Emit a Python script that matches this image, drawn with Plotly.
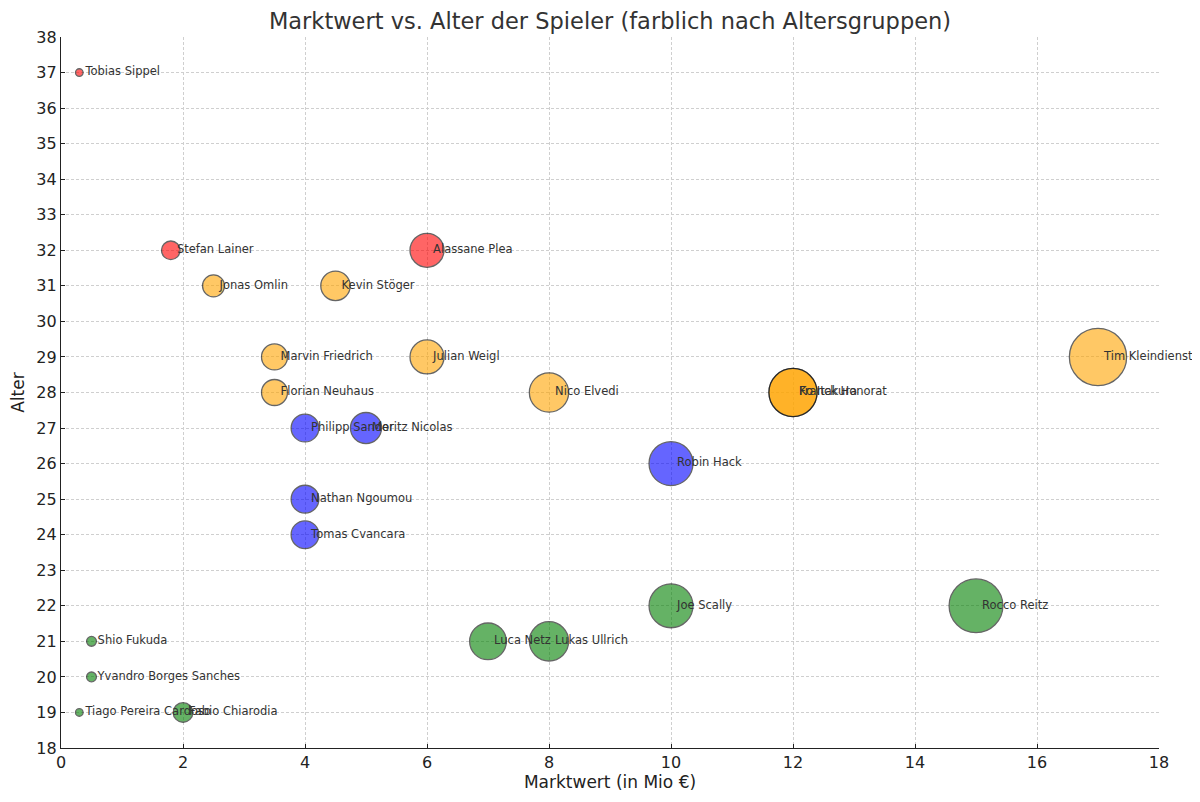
import numpy as np
import plotly.graph_objects as go

# Spielerdaten
spieler = ["Tobias Sippel", "Stefan Lainer", "Alassane Plea", "Jonas Omlin", "Kevin Stöger",
           "Marvin Friedrich", "Julian Weigl", "Tim Kleindienst", "Florian Neuhaus", "Nico Elvedi",
           "Ko Itakura", "Franck Honorat", "Philipp Sander", "Moritz Nicolas", "Robin Hack",
           "Nathan Ngoumou", "Tomas Cvancara", "Joe Scally", "Rocco Reitz", "Luca Netz",
           "Lukas Ullrich", "Shio Fukuda", "Yvandro Borges Sanches", "Tiago Pereira Cardoso",
           "Fabio Chiarodia"]
marktwert = [0.3, 1.8, 6, 2.5, 4.5,
             3.5, 6, 17, 3.5, 8,
             12, 12, 4, 5, 10,
             4, 4, 10, 15, 7,
             8, 0.5, 0.5, 0.3,
             2]
alter = [37, 32, 32, 31, 31,
         29, 29, 29, 28, 28,
         28, 28, 27, 27, 26,
         25, 24, 22, 22, 21,
         21, 21, 20, 19,
         19]


def farbe(a):
    if a >= 32:
        return "red"
    if a >= 28:
        return "orange"
    if a >= 24:
        return "blue"
    return "green"


farben = [farbe(a) for a in alter]
# matplotlib s = wert*100 (pt^2) -> Durchmesser in px
groessen = [np.sqrt(w * 100) * 100 / 72 for w in marktwert]

fig = go.Figure()
fig.add_trace(go.Scatter(
    x=marktwert, y=alter, mode="markers",
    marker=dict(size=groessen, color=farben, opacity=0.6,
                line=dict(color="black", width=1.3)),
    hovertext=spieler, showlegend=False))
fig.add_trace(go.Scatter(
    x=[w + 0.1 for w in marktwert], y=alter, mode="text", text=spieler,
    textposition="middle right", cliponaxis=False,
    textfont=dict(size=11.5, color="#333333", family="DejaVu Sans"),
    showlegend=False))

fig.update_layout(
    width=1200, height=802,
    paper_bgcolor="white", plot_bgcolor="white",
    margin=dict(l=53, r=49, t=29, b=62, autoexpand=False),
    font=dict(family="DejaVu Sans", color="#222222"),
    title=dict(text="Marktwert vs. Alter der Spieler (farblich nach Altersgruppen)",
               x=0.5, xref="paper", xanchor="center", y=0.984, yanchor="middle",
               font=dict(size=22.5, color="#333333")),
)
fig.update_xaxes(range=[0, 18], dtick=2, showgrid=True, gridcolor="#cfcfcf", griddash="3px,2px",
                 gridwidth=0.8, showline=True, linecolor="#222222", linewidth=1.3,
                 ticks="inside", ticklen=4, tickcolor="#222222", zeroline=False,
                 tickfont=dict(size=16), automargin=False,
                 title=dict(text="Marktwert (in Mio €)", font=dict(size=17), standoff=4))
fig.update_yaxes(range=[18, 38], dtick=1, showgrid=True, gridcolor="#cfcfcf", griddash="3px,2px",
                 gridwidth=0.8, showline=True, linecolor="#222222", linewidth=1.3,
                 ticks="inside", ticklen=4, tickcolor="#222222", zeroline=False,
                 tickfont=dict(size=16), automargin=False,
                 title=dict(text="Alter", font=dict(size=17), standoff=9))

fig.write_html("out.html")
